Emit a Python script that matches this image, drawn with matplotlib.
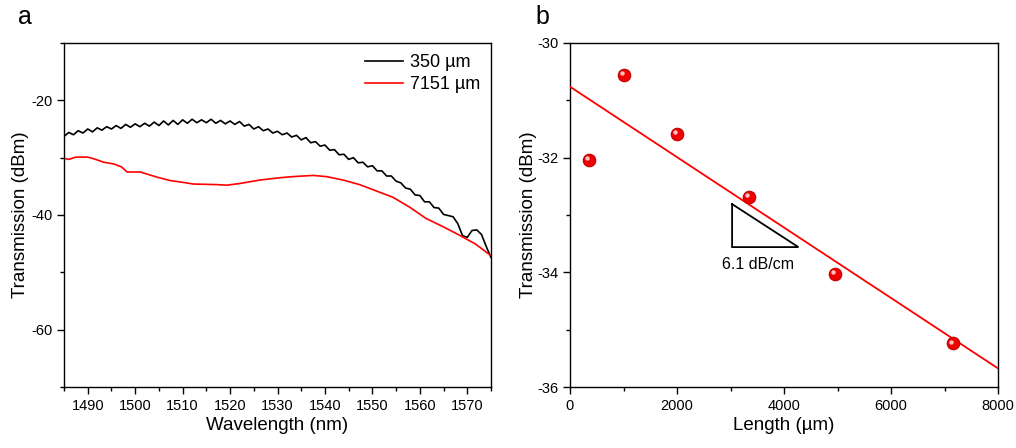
import numpy as np
import matplotlib
matplotlib.use('Agg')
import matplotlib.pyplot as plt
from matplotlib.transforms import offset_copy
from matplotlib.ticker import MultipleLocator

plt.rcParams['font.family'] = ['Liberation Sans', 'DejaVu Sans']
plt.rcParams['axes.unicode_minus'] = False

# panel a: transmission spectra
wl_350 = np.arange(1485, 1576, 1)
tr_350 = [-26.3, -25.6, -26.0, -25.3, -25.7, -25.0, -25.5, -24.8, -25.2, -24.6,
          -25.0, -24.4, -24.9, -24.2, -24.7, -24.1, -24.6, -24.0, -24.5, -23.8,
          -24.4, -23.6, -24.3, -23.5, -24.2, -23.4, -24.0, -23.3, -23.9, -23.4,
          -23.9, -23.3, -24.0, -23.5, -24.1, -23.6, -24.2, -23.7, -24.5, -24.2,
          -25.0, -24.6, -25.3, -25.0, -25.7, -25.4, -26.0, -25.7, -26.4, -26.1,
          -26.9, -26.5, -27.4, -27.2, -28.0, -27.8, -28.7, -28.6, -29.5, -29.4,
          -30.3, -30.0, -30.9, -30.8, -31.6, -31.4, -32.3, -32.3, -33.2, -33.2,
          -34.1, -34.4, -35.3, -35.5, -36.5, -36.6, -37.7, -37.7, -38.7, -38.8,
          -39.9, -40.1, -40.3, -41.5, -43.6, -43.9, -42.7, -42.6, -43.4, -45.5,
          -47.4]

wl_7151 = [1485, 1486, 1487.5, 1490, 1491.3, 1493.4, 1495.5, 1497.1, 1498.3, 1501.1,
           1504.6, 1507.4, 1510, 1512.3, 1517.2, 1519.3, 1522.1, 1526.3, 1530.5,
           1533.3, 1537.5, 1540.3, 1543.8, 1547.3, 1550.8, 1554.3, 1557.8, 1561.3,
           1564.8, 1568.3, 1571.8, 1575]
tr_7151 = [-30.1, -30.3, -29.9, -29.9, -30.2, -30.8, -31.1, -31.6, -32.5, -32.5,
           -33.4, -34.0, -34.3, -34.6, -34.7, -34.8, -34.5, -33.9, -33.5,
           -33.3, -33.1, -33.3, -33.9, -34.7, -35.8, -36.9, -38.6, -40.6,
           -42.0, -43.5, -45.1, -47.1]

# panel b: cut-back measurement
length_um = [350, 1000, 2000, 3350, 4950, 7151]
trans_dbm = [-32.04, -30.55, -31.58, -32.68, -34.03, -35.24]

# slope triangle annotation
tri_x = [3030, 3030, 4270, 3030]
tri_y = [-32.81, -33.56, -33.56, -32.81]

fig = plt.figure(figsize=(10.16, 4.48), dpi=100)
ax1 = fig.add_axes([64/1016, 61/448, 427/1016, 344/448])
ax2 = fig.add_axes([570/1016, 61/448, 428/1016, 344/448])

ax1.plot(wl_350, tr_350, color='black', lw=1.2, label='350 \u00b5m')
ax1.plot(wl_7151, tr_7151, color='red', lw=1.2, label='7151 \u00b5m')
ax1.set_xlim(1485, 1575)
ax1.set_ylim(-70, -10)
ax1.xaxis.set_minor_locator(MultipleLocator(5))
ax1.yaxis.set_major_locator(MultipleLocator(20))
ax1.yaxis.set_minor_locator(MultipleLocator(10))
ax1.set_xticks(np.arange(1490, 1571, 10))
ax1.set_xlabel('Wavelength (nm)', fontsize=13.5, labelpad=3)
ax1.set_ylabel('Transmission (dBm)', fontsize=13.5, labelpad=1.5)
ax1.legend(loc='upper right', frameon=False, fontsize=13, handlelength=2.1,
           handletextpad=0.4, labelspacing=0.3, borderaxespad=0.2)

ax2.plot(length_um, trans_dbm, 'o', ms=9, color='#f00000', mec='#c00000', mew=0.8, zorder=5)
hl = offset_copy(ax2.transData, fig=fig, x=-1.3, y=1.3, units='points')
ax2.plot(length_um, trans_dbm, 'o', ms=3.2, color='#ffc0c0', mew=0, transform=hl, zorder=6)

coef = np.polyfit(length_um, trans_dbm, 1)
xfit = np.array([0, 8000])
ax2.plot(xfit, np.polyval(coef, xfit), color='red', lw=1.3, zorder=4)

ax2.plot(tri_x, tri_y, color='black', lw=1.3, solid_joinstyle='miter')
ax2.text(3520, -33.87, '6.1 dB/cm', fontsize=11.5, ha='center', va='center')

ax2.set_xlim(0, 8000)
ax2.set_ylim(-36, -30)
ax2.xaxis.set_major_locator(MultipleLocator(2000))
ax2.xaxis.set_minor_locator(MultipleLocator(1000))
ax2.yaxis.set_major_locator(MultipleLocator(2))
ax2.yaxis.set_minor_locator(MultipleLocator(1))
ax2.set_xlabel('Length (\u00b5m)', fontsize=13.5, labelpad=3)
ax2.set_ylabel('Transmission (dBm)', fontsize=13.5, labelpad=0)

for ax in (ax1, ax2):
    ax.tick_params(which='major', direction='out', length=5, width=1, labelsize=10.5,
                   top=False, right=False)
    ax.tick_params(which='minor', direction='out', length=3, width=1,
                   top=False, right=False)
    for s in ax.spines.values():
        s.set_linewidth(1.0)

fig.text(25/1016, 1 - 17/448, 'a', fontsize=18, ha='center', va='center')
fig.text(542/1016, 1 - 17/448, 'b', fontsize=18, ha='center', va='center')

plt.savefig('out.png', dpi=100)
plt.close()
